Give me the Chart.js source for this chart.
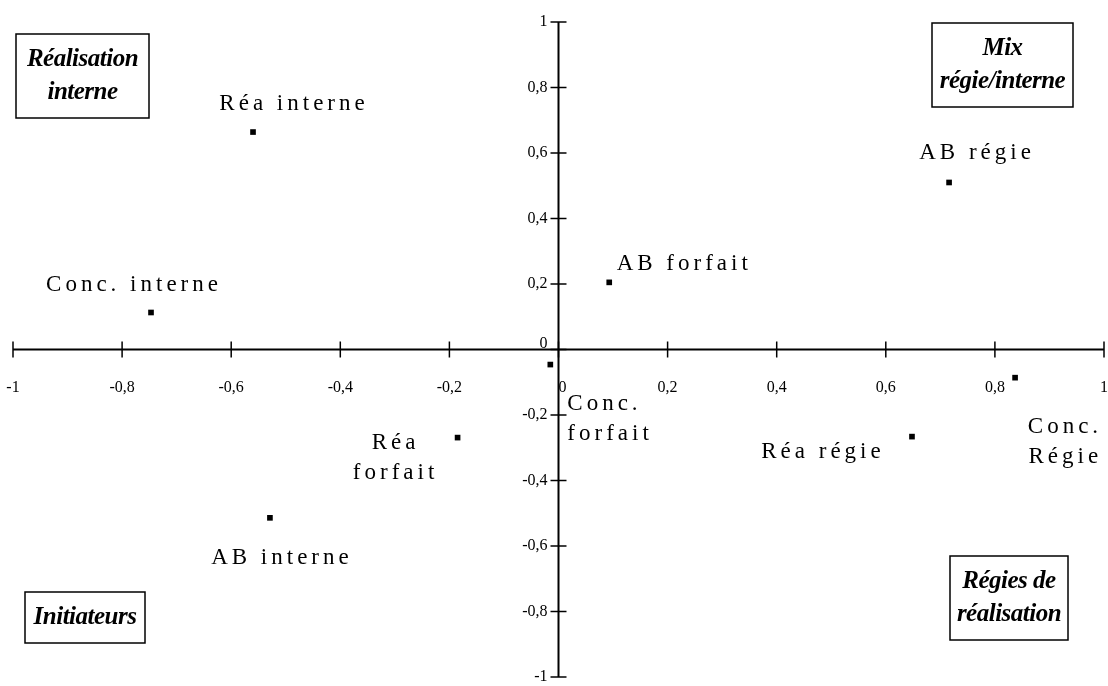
<!DOCTYPE html>
<html>
<head>
<meta charset="utf-8">
<script src="https://cdn.jsdelivr.net/npm/chart.js@4.4.1/dist/chart.umd.min.js"></script>
<style>
  html, body { margin: 0; padding: 0; background: #fff; }
  #wrap { width: 1108px; height: 686px; }
</style>
</head>
<body>
<div id="wrap"><canvas id="map" width="1108" height="686"></canvas></div>
<script>
// positions of the categories on the two factors
const names = ['Réa interne', 'Conc. interne', 'AB forfait', 'AB régie', 'Conc. forfait', 'Conc. Régie', 'Réa régie', 'Réa forfait', 'AB interne'];
const factor1 = [-0.56, -0.747, 0.093, 0.716, -0.015, 0.837, 0.648, -0.185, -0.529];
const factor2 = [0.664, 0.113, 0.205, 0.51, -0.046, -0.086, -0.266, -0.269, -0.514];
const axisTicks = [-1, -0.8, -0.6, -0.4, -0.2, 0, 0.2, 0.4, 0.6, 0.8, 1];

// where each label sits relative to its point: [dx, dy, align, lines]
const labelPlace = [
  [41, -28, 'center', ['Réa interne']],
  [-17, -28, 'center', ['Conc. interne']],
  [75, -18, 'center', ['AB forfait']],
  [28, -30, 'center', ['AB régie']],
  [17, 39, 'left', ['Conc.', 'forfait']],
  [87, 49, 'right', ['Conc.', 'Régie']],
  [-89, 15, 'center', ['Réa régie']],
  [-62, 5, 'center', ['Réa', 'forfait']],
  [12, 40, 'center', ['AB interne']]
];

// quadrant captions
const quadrants = [
  { box: [16, 34, 133, 84], lines: ['Réalisation', 'interne'] },
  { box: [932, 23, 141, 84], lines: ['Mix', 'régie/interne'] },
  { box: [25, 592, 120, 51], lines: ['Initiateurs'] },
  { box: [950, 556, 118, 84], lines: ['Régies de', 'réalisation'] }
];

const fmt = v => {
  const r = Math.round(v * 10) / 10;
  return Number.isInteger(r) ? String(r) : r.toFixed(1).replace('.', ',');
};

// axes crossing at the origin, drawn from the (hidden) scales
const crossAxes = {
  id: 'crossAxes',
  beforeDatasetsDraw(chart) {
    const ctx = chart.ctx;
    const xs = chart.scales.x, ys = chart.scales.y;
    const x0 = xs.getPixelForValue(0), y0 = ys.getPixelForValue(0);
    ctx.save();
    ctx.strokeStyle = '#000';
    ctx.lineWidth = 2;
    ctx.beginPath();
    ctx.moveTo(xs.getPixelForValue(-1), y0); ctx.lineTo(xs.getPixelForValue(1), y0);
    ctx.moveTo(x0, ys.getPixelForValue(1)); ctx.lineTo(x0, ys.getPixelForValue(-1));
    ctx.stroke();
    ctx.lineWidth = 1.5;
    ctx.fillStyle = '#000';
    ctx.font = '16px "Liberation Serif"';
    axisTicks.forEach(t => {
      const px = xs.getPixelForValue(t);
      ctx.beginPath(); ctx.moveTo(px, y0 - 8); ctx.lineTo(px, y0 + 8); ctx.stroke();
      ctx.textAlign = 'center';
      ctx.textBaseline = 'middle';
      ctx.fillText(fmt(t), t === 0 ? px + 4 : px, y0 + 38);

      const py = ys.getPixelForValue(t);
      ctx.beginPath(); ctx.moveTo(x0 - 8, py); ctx.lineTo(x0 + 8, py); ctx.stroke();
      ctx.textAlign = 'right';
      ctx.fillText(fmt(t), x0 - 11, t === 0 ? py - 6 : py);
    });
    ctx.restore();
  }
};

const pointLabels = {
  id: 'pointLabels',
  afterDatasetsDraw(chart) {
    const ctx = chart.ctx;
    const pts = chart.getDatasetMeta(0).data;
    ctx.save();
    ctx.fillStyle = '#000';
    ctx.font = '23px "Liberation Serif"';
    ctx.letterSpacing = '4px';
    ctx.textBaseline = 'middle';
    pts.forEach((p, i) => {
      const [dx, dy, align, lines] = labelPlace[i];
      ctx.textAlign = align;
      lines.forEach((ln, k) => ctx.fillText(ln, p.x + dx, p.y + dy + k * 30));
    });
    ctx.restore();

    ctx.save();
    ctx.strokeStyle = '#000';
    ctx.lineWidth = 1.5;
    ctx.fillStyle = '#000';
    ctx.font = 'italic bold 25px "Liberation Serif"';
    ctx.letterSpacing = '-0.5px';
    ctx.textAlign = 'center';
    ctx.textBaseline = 'middle';
    quadrants.forEach(q => {
      const [bx, by, bw, bh] = q.box;
      ctx.strokeRect(bx, by, bw, bh);
      const n = q.lines.length;
      q.lines.forEach((ln, k) => {
        ctx.fillText(ln, bx + bw / 2, by + bh / 2 + (k - (n - 1) / 2) * 33);
      });
    });
    ctx.restore();
  }
};

new Chart(document.getElementById('map'), {
  type: 'scatter',
  data: {
    datasets: [{
      label: 'positions',
      data: factor1.map((x, i) => ({ x, y: factor2[i] })),
      pointStyle: 'rect',
      radius: 4,
      backgroundColor: '#000',
      borderColor: '#000',
      borderWidth: 0
    }]
  },
  options: {
    responsive: false,
    animation: false,
    layout: { padding: { left: 13, right: 3, top: 22, bottom: 9 } },
    plugins: { legend: { display: false }, tooltip: { enabled: false } },
    scales: {
      x: { type: 'linear', min: -1, max: 1, display: false },
      y: { type: 'linear', min: -1, max: 1, display: false }
    }
  },
  plugins: [crossAxes, pointLabels]
});
</script>
</body>
</html>
